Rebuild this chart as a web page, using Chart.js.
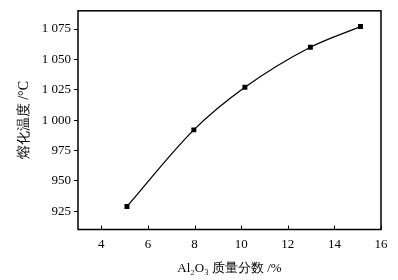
<!DOCTYPE html>
<html>
<head>
<meta charset="utf-8">
<script src="https://cdn.jsdelivr.net/npm/chart.js@4"></script>
<style>
  html, body { margin: 0; padding: 0; background: #fff; }
  #wrap { width: 398px; height: 280px; }
</style>
</head>
<body>
<div id="wrap"><canvas id="meltChart" width="398" height="280"></canvas></div>
<script>
// 数据
const al2o3 = [5.1, 7.97, 10.16, 12.97, 15.12];
const meltTemp = [929, 992, 1027, 1060, 1077];
const xTicks = [4, 6, 8, 10, 12, 14, 16];
const yTicks = [925, 950, 975, 1000, 1025, 1050, 1075];

const serif = "'Liberation Serif', 'Times New Roman', serif";

// 边框与向内的 x 刻度
const framePlugin = {
  id: 'frame',
  afterDraw(chart) {
    const { ctx, chartArea: a, scales } = chart;
    ctx.save();
    ctx.strokeStyle = '#000';
    ctx.lineWidth = 1.5;
    ctx.strokeRect(a.left, a.top, a.right - a.left, a.bottom - a.top);
    ctx.lineWidth = 1;
    scales.x.ticks.forEach(t => {
      const px = Math.round(scales.x.getPixelForValue(t.value)) + 0.5;
      ctx.beginPath();
      ctx.moveTo(px, a.bottom);
      ctx.lineTo(px, a.bottom - 4);
      ctx.stroke();
    });
    ctx.restore();
  }
};

const ctx = document.getElementById('meltChart').getContext('2d');
new Chart(ctx, {
  type: 'scatter',
  data: {
    datasets: [{
      data: al2o3.map((x, i) => ({ x: x, y: meltTemp[i] })),
      showLine: true,
      cubicInterpolationMode: 'monotone',
      borderColor: '#000',
      borderWidth: 1.3,
      backgroundColor: '#000',
      pointStyle: 'rect',
      pointRadius: 3.5,
      pointBorderWidth: 0
    }]
  },
  plugins: [framePlugin],
  options: {
    responsive: false,
    animation: false,
    layout: { padding: { left: 0, right: 17, top: 7, bottom: 0 } },
    plugins: { legend: { display: false }, tooltip: { enabled: false } },
    scales: {
      x: {
        type: 'linear',
        min: 3, max: 16,
        afterBuildTicks: s => { s.ticks = xTicks.map(v => ({ value: v })); },
        afterFit: s => { s.height = 50.5; },
        grid: { display: false, drawTicks: false },
        border: { display: false },
        ticks: { color: '#000', padding: 7, font: { family: serif, size: 13 } },
        title: {
          display: true,
          text: 'Al₂O₃ 质量分数 /%',
          color: '#000',
          padding: { top: 2, bottom: 4 },
          font: { family: serif, size: 13 }
        }
      },
      y: {
        min: 910, max: 1090,
        afterBuildTicks: s => { s.ticks = yTicks.map(v => ({ value: v })); },
        afterFit: s => { s.width = 78; },
        grid: { drawOnChartArea: false, tickLength: 4, color: '#000' },
        border: { display: false },
        ticks: {
          color: '#000', padding: 3,
          font: { family: serif, size: 13 },
          callback: v => String(v).replace(/\B(?=(\d{3})+(?!\d))/g, ' ')
        },
        title: {
          display: true,
          text: '熔化温度 /°C',
          color: '#000',
          padding: { top: 16, bottom: 4 },
          font: { family: serif, size: 14 }
        }
      }
    }
  }
});
</script>
</body>
</html>
